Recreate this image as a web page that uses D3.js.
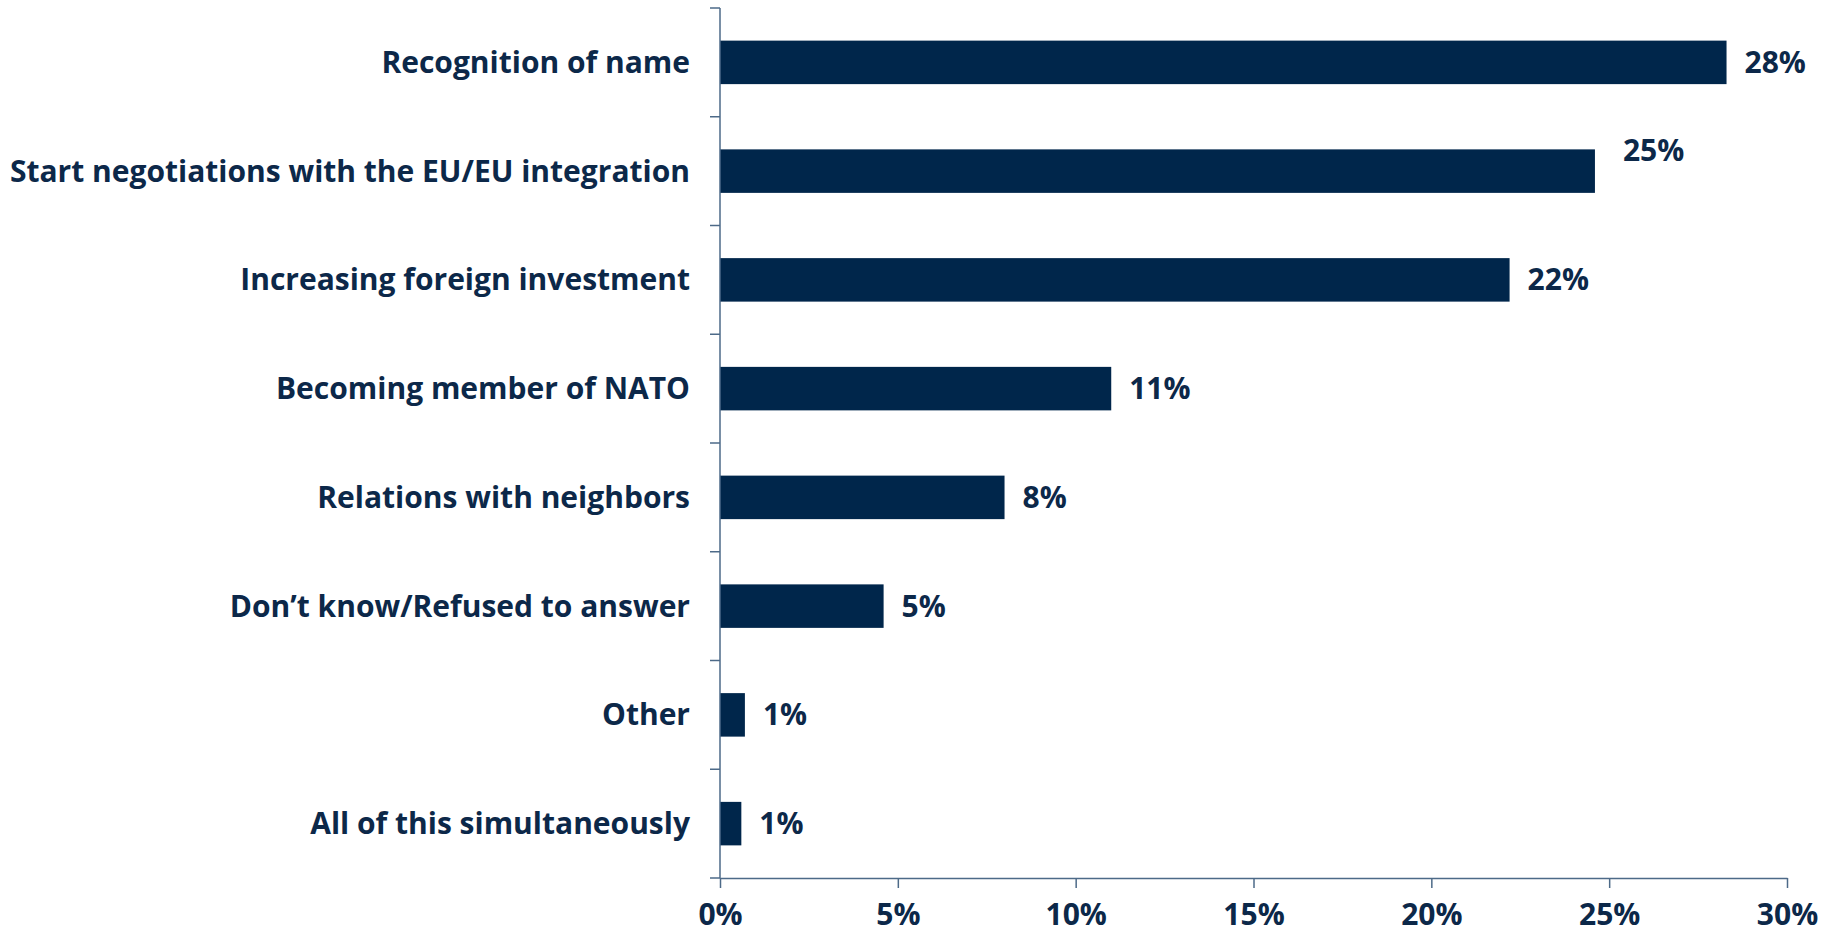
<!DOCTYPE html>
<html>
  <head>
    <script src="https://d3js.org/d3.v7.min.js"></script>
    <style>
      body { margin: 0; background: #fff; }
      text { font-family: "Open Sans", "Noto Sans", sans-serif; font-weight: 700; fill: #0c2849; }
      .axis path, .axis line, .tick-line { stroke: #4d6a88; stroke-width: 1.5; }
    </style>
  </head>
  <body>
    <svg width="1837" height="934"></svg>
    <script>
      // data
      var categories = [
        "Recognition of name",
        "Start negotiations with the EU/EU integration",
        "Increasing foreign investment",
        "Becoming member of NATO",
        "Relations with neighbors",
        "Don\u2019t know/Refused to answer",
        "Other",
        "All of this simultaneously"
      ];
      var values = [0.283, 0.246, 0.222, 0.110, 0.080, 0.046, 0.007, 0.006];
      var valueLabels = ["28%", "25%", "22%", "11%", "8%", "5%", "1%", "1%"];
      var xTicks = [0, 0.05, 0.10, 0.15, 0.20, 0.25, 0.30];

      var svg = d3.select("svg");
      var plotLeft = 720, plotRight = 1787, plotTop = 8, plotBottom = 878;
      var fontSize = 30;

      var x = d3.scaleLinear().domain([0, 0.30]).range([plotLeft, plotRight]);
      var y = d3.scaleBand().domain(categories).range([plotTop, plotBottom])
          .paddingInner(0.6).paddingOuter(0.3);
      var step = y.step();

      // bars
      svg.selectAll(".bar").data(values).enter().append("rect")
          .attr("class", "bar")
          .attr("x", x(0))
          .attr("y", function(d, i) { return y(categories[i]); })
          .attr("width", function(d) { return x(d) - x(0); })
          .attr("height", y.bandwidth())
          .attr("fill", "#00264b");

      // value labels (25% label sits higher in the original)
      svg.selectAll(".val").data(values).enter().append("text")
          .attr("class", "val")
          .attr("x", function(d, i) { return x(d) + (i === 1 ? 28 : 18); })
          .attr("y", function(d, i) { return y(categories[i]) + y.bandwidth() / 2 - (i === 1 ? 21 : 0); })
          .attr("dy", "0.35em")
          .attr("font-size", fontSize)
          .text(function(d, i) { return valueLabels[i]; });

      // category labels
      svg.selectAll(".cat").data(categories).enter().append("text")
          .attr("class", "cat")
          .attr("x", plotLeft - 30)
          .attr("y", function(d) { return y(d) + y.bandwidth() / 2; })
          .attr("dy", "0.35em")
          .attr("text-anchor", "end")
          .attr("font-size", fontSize)
          .text(function(d) { return d; });

      // y axis line and ticks at band boundaries
      svg.append("line").attr("class", "tick-line")
          .attr("x1", plotLeft).attr("x2", plotLeft).attr("y1", plotTop).attr("y2", plotBottom);
      svg.selectAll(".ytick").data(d3.range(categories.length + 1)).enter().append("line")
          .attr("class", "tick-line")
          .attr("x1", plotLeft - 10).attr("x2", plotLeft)
          .attr("y1", function(i) { return plotTop + i * step; })
          .attr("y2", function(i) { return plotTop + i * step; });

      // x axis
      var xAxis = svg.append("g").attr("class", "axis")
          .attr("transform", "translate(0," + plotBottom + ")")
          .call(d3.axisBottom(x).tickValues(xTicks).tickFormat(d3.format(".0%"))
            .tickSize(10).tickSizeOuter(0).tickPadding(16));
      xAxis.selectAll("text").attr("font-size", fontSize).attr("fill", "#0c2849")
          .style("font-family", "'Open Sans', 'Noto Sans', sans-serif");
    </script>
  </body>
</html>
